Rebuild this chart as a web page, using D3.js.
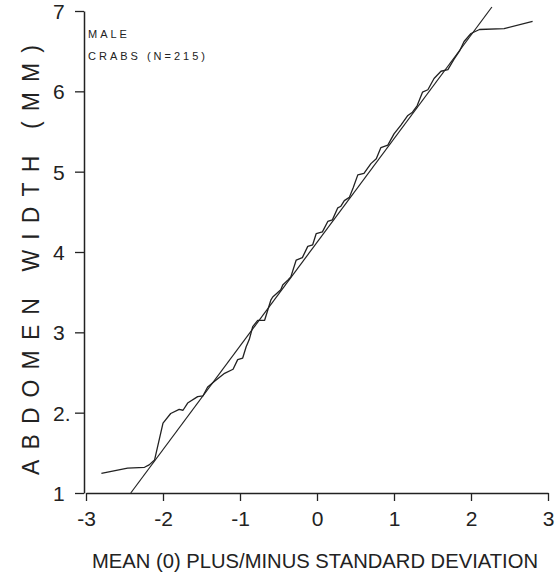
<!DOCTYPE html>
<html>
<head>
<meta charset="utf-8">
<script src="https://cdn.jsdelivr.net/npm/d3@7"></script>
<style>
  body { margin: 0; background: #fff; }
  text { font-family: "Liberation Sans", Arial, sans-serif; fill: #222; }
</style>
</head>
<body>
<div id="chart"></div>
<script>
const zScores = [-2.80, -2.46, -2.24, -2.18, -2.11, -2.00, -1.90, -1.79, -1.74, -1.68,
  -1.55, -1.48, -1.42, -1.33, -1.20, -1.09, -1.03, -0.965, -0.92, -0.88,
  -0.835, -0.77, -0.68, -0.60, -0.575, -0.47, -0.445, -0.38, -0.34, -0.27,
  -0.19, -0.12, -0.056, -0.01, 0.07, 0.14, 0.20, 0.27, 0.31, 0.355,
  0.42, 0.47, 0.53, 0.61, 0.70, 0.77, 0.83, 0.92, 1.00, 1.09,
  1.18, 1.24, 1.30, 1.37, 1.44, 1.52, 1.61, 1.70, 1.78, 1.85,
  1.91, 2.00, 2.11, 2.43, 2.80];
const widths = [1.245, 1.31, 1.32, 1.35, 1.41, 1.87, 1.99, 2.04, 2.03, 2.12,
  2.20, 2.21, 2.32, 2.39, 2.49, 2.54, 2.66, 2.68, 2.82, 2.91,
  3.07, 3.15, 3.15, 3.40, 3.44, 3.53, 3.59, 3.65, 3.69, 3.90,
  3.93, 4.07, 4.09, 4.23, 4.25, 4.38, 4.40, 4.55, 4.57, 4.64,
  4.68, 4.80, 4.96, 4.98, 5.10, 5.16, 5.30, 5.33, 5.47, 5.58,
  5.70, 5.74, 5.82, 5.99, 6.02, 6.16, 6.25, 6.27, 6.40, 6.50,
  6.62, 6.72, 6.77, 6.78, 6.87];

// fitted normal line: width = mean + sd * z
const fitMean = 4.12;
const fitSD = 1.29;

const xTicks = [-3, -2, -1, 0, 1, 2, 3];
const xTickLabels = ["-3", "-2", "-1", "0", "1", "2", "3"];
const yTicks = [1, 2, 3, 4, 5, 6, 7];
const yTickLabels = ["1", "2.", "3", "4", "5", "6", "7"];

const legendLines = ["MALE", "CRABS (N=215)"];
const xTitle = "MEAN (0) PLUS/MINUS STANDARD DEVIATION";
const yTitle = "ABDOMEN WIDTH (MM)";

const W = 560, H = 577;
const margin = {top: 11, right: 12, bottom: 84, left: 86};

const svg = d3.select("#chart").append("svg")
  .attr("width", W)
  .attr("height", H);

const x = d3.scaleLinear().domain([-3, 3]).range([margin.left, W - margin.right]);
const y = d3.scaleLinear().domain([1, 7]).range([H - margin.bottom, margin.top]);

// axes
const xAxis = svg.append("g")
  .attr("transform", `translate(0,${y(1)})`)
  .call(d3.axisBottom(x).tickValues(xTicks)
    .tickFormat((d, i) => xTickLabels[i])
    .tickSize(8).tickSizeOuter(0).tickPadding(10));

const yAxis = svg.append("g")
  .attr("transform", `translate(${x(-3) - 2},0)`)
  .call(d3.axisLeft(y).tickValues(yTicks)
    .tickFormat((d, i) => yTickLabels[i])
    .tickSize(9).tickSizeOuter(0).tickPadding(10));

[xAxis, yAxis].forEach(g => {
  g.select(".domain").attr("stroke", "#222").attr("stroke-width", 1.5);
  g.selectAll(".tick line").attr("stroke", "#222").attr("stroke-width", 1.3);
  g.selectAll(".tick text").attr("font-size", 21).attr("fill", "#2a2a2a")
    .style("font-family", "'Liberation Sans', Arial, sans-serif");
});
yAxis.selectAll(".tick text").attr("text-anchor", "start").attr("x", -31).attr("dy", "0.36em");

// fitted straight line, drawn across the plotting range
const zLow = (1 - fitMean) / fitSD;
const zHigh = (7.05 - fitMean) / fitSD;
svg.append("line")
  .attr("x1", x(zLow)).attr("y1", y(fitMean + fitSD * zLow))
  .attr("x2", x(zHigh)).attr("y2", y(fitMean + fitSD * zHigh))
  .attr("stroke", "#222")
  .attr("stroke-width", 1.2);

// observed curve
const pts = zScores.map((z, i) => [z, widths[i]]);
svg.append("path")
  .datum(pts)
  .attr("fill", "none")
  .attr("stroke", "#222")
  .attr("stroke-width", 1.3)
  .attr("stroke-linejoin", "round")
  .attr("d", d3.line().x(d => x(d[0])).y(d => y(d[1])));

// legend text
svg.selectAll(".legend")
  .data(legendLines)
  .enter()
  .append("text")
  .attr("class", "legend")
  .attr("x", x(-3) + 2)
  .attr("y", (d, i) => 38 + i * 22)
  .attr("font-size", 11)
  .attr("letter-spacing", "3px")
  .text(d => d);

// axis titles
svg.append("text")
  .attr("x", 92)
  .attr("y", 568)
  .attr("font-size", 21)
  .attr("textLength", 446)
  .attr("lengthAdjust", "spacingAndGlyphs")
  .text(xTitle);

svg.append("text")
  .attr("transform", "translate(39,475) rotate(-90)")
  .attr("font-size", 23)
  .attr("textLength", 430)
  .attr("lengthAdjust", "spacing")
  .text(yTitle);
</script>
</body>
</html>
